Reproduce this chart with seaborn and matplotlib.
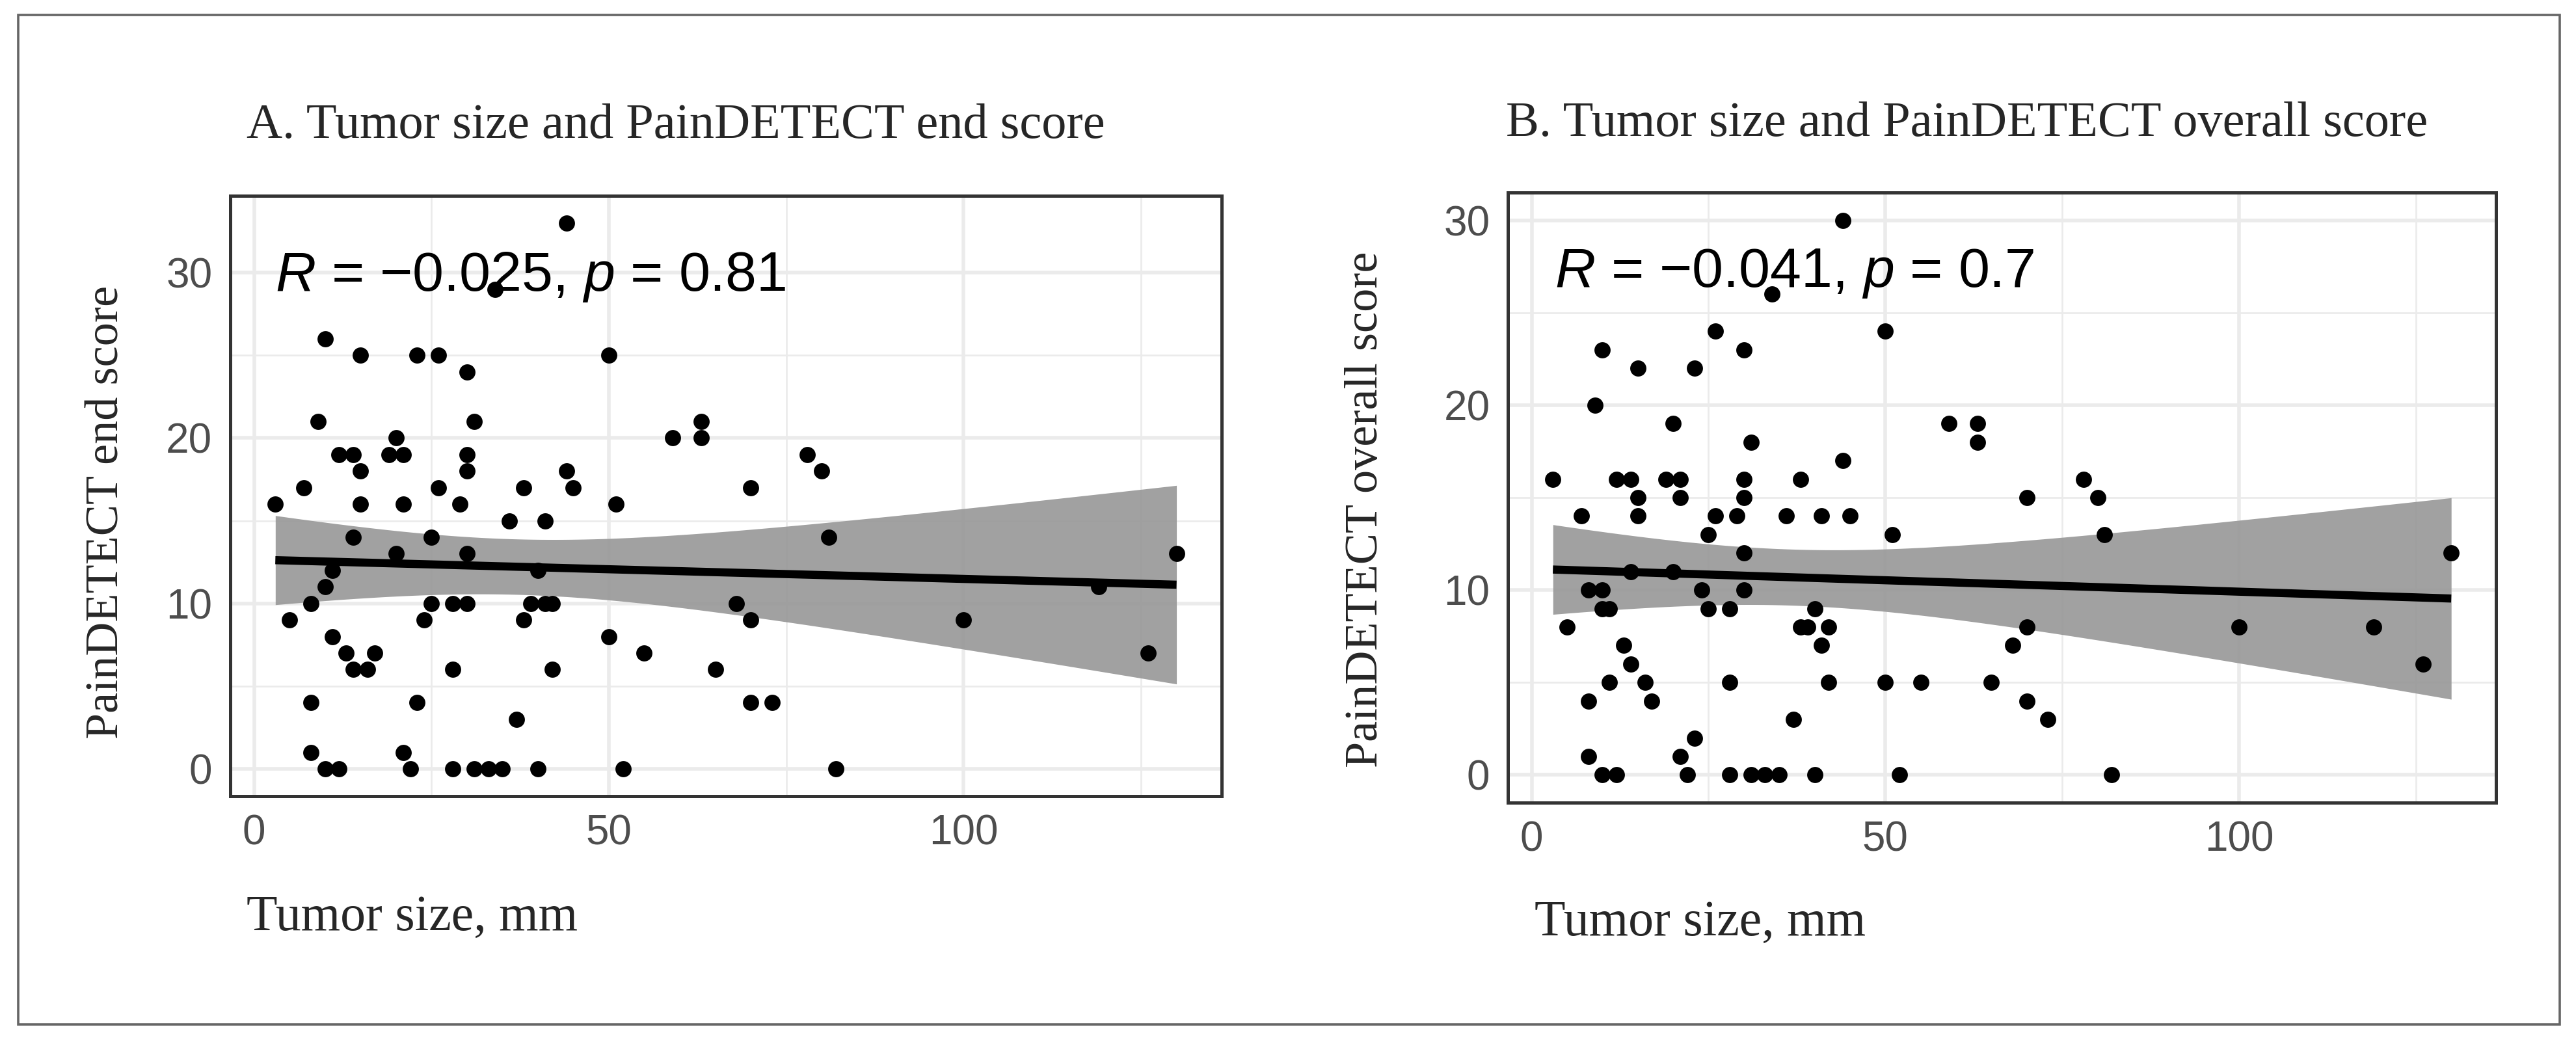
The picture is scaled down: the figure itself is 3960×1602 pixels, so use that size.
import numpy as np
import pandas as pd
import matplotlib
matplotlib.use('Agg')
import matplotlib.pyplot as plt
import seaborn as sns
from matplotlib.patches import Rectangle

# Panel A: tumor size (mm) vs PainDETECT end score
size_a = [3, 5, 7, 8, 8, 8, 9, 10, 10, 10, 11, 11,
          12, 12, 13, 14, 14, 14, 15, 15, 15, 16, 17, 19,
          20, 20, 21, 21, 21, 22, 23, 23, 24, 25, 25, 26, 26,
          28, 28, 28, 29, 30, 30, 30, 30, 30, 31, 31, 33, 34, 35, 36, 37,
          38, 38, 39, 40, 40, 41, 41, 42, 42, 44, 44, 45,
          50, 50, 51, 52, 55, 59, 63, 63, 65, 68, 70, 70, 70, 73,
          78, 80, 81, 82, 100, 119, 126, 130]
end_score = [16, 9, 17, 10, 4, 1, 21, 26, 11, 0, 12, 8,
             19, 0, 7, 19, 14, 6, 25, 18, 16, 6, 7, 19,
             20, 13, 19, 16, 1, 0, 25, 4, 9, 14, 10, 25, 17,
             10, 6, 0, 16, 24, 19, 18, 13, 10, 21, 0, 0, 29, 0, 15, 3,
             17, 9, 10, 12, 0, 15, 10, 10, 6, 33, 18, 17,
             25, 8, 16, 0, 7, 20, 21, 20, 6, 10, 17, 9, 4, 4,
             19, 18, 14, 0, 9, 11, 7, 13]

# Panel B: tumor size (mm) vs PainDETECT overall score
size_b = [3, 5, 7, 8, 8, 8, 9, 10, 10, 10, 10, 11, 11,
          12, 12, 13, 14, 14, 14, 15, 15, 15, 16, 17, 19,
          20, 20, 21, 21, 21, 22, 23, 23, 24, 25, 25, 26, 26,
          28, 28, 28, 29, 30, 30, 30, 30, 30, 31, 31, 33, 34, 35, 36, 37,
          38, 38, 39, 40, 40, 41, 41, 42, 42, 44, 44, 45,
          50, 50, 51, 52, 55, 59, 63, 63, 65, 68, 70, 70, 70, 73,
          78, 80, 81, 82, 100, 119, 126, 130]
overall_score = [16, 8, 14, 4, 1, 10, 20, 23, 10, 9, 0, 9, 5,
                 16, 0, 7, 16, 6, 11, 22, 15, 14, 5, 4, 16,
                 19, 11, 16, 15, 1, 0, 22, 2, 10, 13, 9, 24, 14,
                 9, 5, 0, 14, 23, 16, 15, 12, 10, 18, 0, 0, 26, 0, 14, 3,
                 16, 8, 8, 9, 0, 14, 7, 8, 5, 30, 17, 14,
                 24, 5, 13, 0, 5, 19, 19, 18, 5, 7, 15, 8, 4, 3,
                 16, 15, 13, 0, 8, 8, 6, 12]

titles = ['A. Tumor size and PainDETECT end score',
          'B. Tumor size and PainDETECT overall score']
ylabels = ['PainDETECT end score', 'PainDETECT overall score']
xlabel = 'Tumor size, mm'
cor_labels = ['$R$ = \u22120.025, $p$ = 0.81', '$R$ = \u22120.041, $p$ = 0.7']


def lm_band(x, y, t_crit=1.988, npts=120):
    """95% confidence band of a simple linear fit (like geom_smooth(method='lm'))."""
    x = np.asarray(x, float)
    y = np.asarray(y, float)
    n = len(x)
    slope, intercept = np.polyfit(x, y, 1)
    xs = np.linspace(x.min(), x.max(), npts)
    fit = intercept + slope * xs
    resid = y - (intercept + slope * x)
    s = np.sqrt(np.sum(resid ** 2) / (n - 2))
    se = s * np.sqrt(1 / n + (xs - x.mean()) ** 2 / np.sum((x - x.mean()) ** 2))
    return xs, fit - t_crit * se, fit + t_crit * se


sns.set_style('white')
plt.rcParams['font.family'] = ['Liberation Sans', 'DejaVu Sans']
plt.rcParams['mathtext.fontset'] = 'custom'
plt.rcParams['mathtext.it'] = 'Liberation Sans:italic'
plt.rcParams['mathtext.rm'] = 'Liberation Sans'

fig = plt.figure(figsize=(19.8, 8.01), dpi=200)
fig.patch.set_facecolor('white')

# outer frame around the whole figure
fig.patches.append(Rectangle((28 / 3960, 1 - 1575 / 1602), (3935 - 28) / 3960, (1575 - 23) / 1602,
                             transform=fig.transFigure, fill=False, edgecolor='#666666', lw=1.3))

axes_pos = [[0.0894, 0.2360, 0.3848, 0.5761],
            [0.5854, 0.2297, 0.3836, 0.5855]]
title_pos = [(379 / 3960, 0.8677), (2315 / 3960, 0.8695)]
xlab_pos = [(379 / 3960, 0.1074), (2359 / 3960, 0.1024)]
ylab_pos = [(0.0414, 0.5087), (0.5303, 0.511)]
cor_pos = [(0.045, 0.842), (0.047, 0.845)]

panels = [pd.DataFrame({'size': size_a, 'score': end_score}),
          pd.DataFrame({'size': size_b, 'score': overall_score})]
ylims = [(-1.65, 34.65), (-1.5, 31.5)]

for i, df in enumerate(panels):
    ax = fig.add_axes(axes_pos[i])
    xs, lo, hi = lm_band(df['size'], df['score'])
    ax.fill_between(xs, lo, hi, color='#999999', alpha=0.92, lw=0, zorder=2)
    sns.regplot(data=df, x='size', y='score', ax=ax, scatter=False, ci=None,
                color='black', line_kws={'lw': 4.5, 'zorder': 4, 'solid_capstyle': 'butt'})
    sns.scatterplot(data=df, x='size', y='score', ax=ax, color='black', s=80,
                    linewidth=0, zorder=3)

    ax.set_xlim(-3.35, 136.35)
    ax.set_ylim(*ylims[i])
    ax.set_xticks([0, 50, 100])
    ax.set_xticks([25, 75, 125], minor=True)
    ax.set_yticks([0, 10, 20, 30])
    ax.set_yticks([5, 15, 25], minor=True)
    ax.grid(which='major', color='#ebebeb', lw=2.0, zorder=0)
    ax.grid(which='minor', color='#ebebeb', lw=1.0, zorder=0)
    ax.set_axisbelow(True)
    ax.tick_params(which='major', length=5, width=1.6, color='#333333',
                   labelsize=23, labelcolor='#4d4d4d', pad=5)
    ax.tick_params(which='minor', length=0)
    for sp in ax.spines.values():
        sp.set_color('#333333')
        sp.set_linewidth(1.8)
    ax.set_xlabel('')
    ax.set_ylabel('')

    ax.text(cor_pos[i][0], cor_pos[i][1], cor_labels[i], transform=ax.transAxes,
            fontsize=31, color='black', ha='left', va='baseline', zorder=5)

    fig.text(title_pos[i][0], title_pos[i][1], titles[i], family='Liberation Serif',
             fontsize=27.5, ha='left', va='baseline')
    fig.text(xlab_pos[i][0], xlab_pos[i][1], xlabel, family='Liberation Serif',
             fontsize=28, ha='left', va='baseline')
    fig.text(ylab_pos[i][0], ylab_pos[i][1], ylabels[i], family='Liberation Serif',
             fontsize=26, rotation=90, ha='center', va='center')

fig.savefig('out.png', dpi=200, facecolor='white')
